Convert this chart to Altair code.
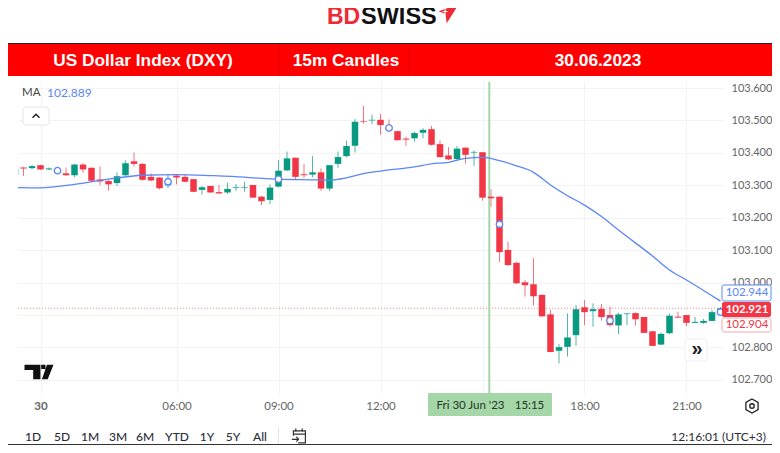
import altair as alt
import pandas as pd

hours = [1.25,1.5,1.75,2.0,2.25,2.5,2.75,3.0,3.25,3.5,3.75,4.0,4.25,4.5,4.75,5.0,5.25,5.5,5.75,6.0,6.25,6.5,6.75,7.0,7.25,7.5,7.75,8.0,8.25,8.5,8.75,
         9.0,9.25,9.5,9.75,10.0,10.25,10.5,10.75,11.0,11.25,11.5,11.75,12.0,12.25,12.5,12.75,13.0,13.25,13.5,13.75,14.0,14.25,14.5,14.75,15.0,15.25,15.5,15.75,
         16.0,16.25,16.5,16.75,17.0,17.25,17.5,17.75,18.0,18.25,18.5,18.75,19.0,19.25,19.5,19.75,20.0,20.25,20.5,20.75,21.0,21.25,21.5,21.75,22.0]
opens = [103.332,103.355,103.353,103.362,103.349,103.347,103.337,103.331,103.364,103.354,103.318,103.313,103.307,103.331,103.374,103.366,103.326,103.324,103.300,103.330,103.326,103.319,103.286,103.298,103.279,103.278,103.292,103.293,103.301,103.265,103.255,
         103.296,103.346,103.385,103.334,103.333,103.340,103.290,103.366,103.390,103.422,103.497,103.500,103.502,103.483,103.467,103.444,103.445,103.462,103.473,103.427,103.392,103.381,103.416,103.401,103.402,103.265,103.265,103.101,
         103.061,103.001,102.995,102.962,102.902,102.790,102.802,102.838,102.924,102.912,102.919,102.900,102.868,102.903,102.906,102.894,102.850,102.809,102.844,102.895,102.900,102.876,102.876,102.882,102.909]
highs = [103.355,103.355,103.363,103.363,103.355,103.352,103.355,103.366,103.368,103.355,103.358,103.318,103.340,103.377,103.401,103.368,103.337,103.325,103.332,103.332,103.335,103.319,103.298,103.298,103.301,103.308,103.304,103.311,103.301,103.267,103.303,
         103.378,103.404,103.385,103.366,103.390,103.352,103.362,103.404,103.438,103.504,103.545,103.518,103.520,103.503,103.468,103.450,103.465,103.476,103.483,103.438,103.417,103.421,103.417,103.407,103.402,103.288,103.265,103.126,
         103.064,103.008,103.075,102.965,102.916,102.811,102.905,102.931,102.946,102.936,102.934,102.926,102.907,102.905,102.908,102.894,102.850,102.846,102.905,102.909,102.900,102.894,102.888,102.916,102.925]
lows = [103.330,103.329,103.349,103.347,103.347,103.339,103.329,103.325,103.339,103.310,103.300,103.283,103.298,103.329,103.358,103.314,103.312,103.288,103.291,103.303,103.309,103.280,103.271,103.278,103.274,103.274,103.283,103.280,103.262,103.239,103.242,
        103.294,103.344,103.316,103.323,103.325,103.283,103.283,103.354,103.386,103.401,103.490,103.488,103.456,103.465,103.438,103.422,103.435,103.445,103.422,103.385,103.378,103.375,103.367,103.360,103.253,103.234,103.064,103.052,
        102.996,102.957,102.929,102.895,102.786,102.751,102.772,102.805,102.869,102.864,102.883,102.864,102.841,102.869,102.867,102.844,102.804,102.807,102.841,102.892,102.866,102.875,102.873,102.880,102.905]
closes = [103.352,103.352,103.359,103.349,103.352,103.344,103.331,103.364,103.349,103.314,103.312,103.303,103.328,103.368,103.366,103.317,103.315,103.291,103.314,103.324,103.311,103.280,103.294,103.278,103.275,103.289,103.294,103.295,103.262,103.251,103.293,
          103.345,103.383,103.326,103.331,103.340,103.290,103.362,103.387,103.421,103.496,103.495,103.502,103.486,103.471,103.439,103.441,103.461,103.471,103.425,103.387,103.380,103.413,103.394,103.403,103.262,103.260,103.094,103.054,
          102.998,102.992,102.958,102.896,102.786,102.801,102.831,102.918,102.909,102.918,102.894,102.869,102.902,102.905,102.887,102.845,102.805,102.842,102.898,102.892,102.876,102.879,102.882,102.909,102.921]

ma_hours = [1.25,2,3,4,5,6,7,8,8.25,9,10,10.5,11,11.5,12,13,13.5,14,14.5,15,15.5,16,16.5,17,17.5,18,18.5,19,20,20.5,21,22]
ma_values = [103.293,103.292,103.303,103.319,103.331,103.333,103.330,103.325,103.323,103.319,103.317,103.316,103.323,103.336,103.344,103.357,103.366,103.371,103.383,103.386,103.376,103.360,103.340,103.301,103.268,103.239,103.204,103.162,103.082,103.039,103.008,102.943]

marker_hours = [2.5,5.75,9,12.25,15.5,18.75,22]
marker_values = [103.345,103.311,103.319,103.477,103.180,102.883,102.909]

y_ticks = [102.7,102.8,102.9,103.0,103.1,103.2,103.3,103.4,103.5,103.6]
x_ticks = [2,6,9,12,15,18,21]
ranges = ["1D","5D","1M","3M","6M","YTD","1Y","5Y","All"]
range_x = [33,62,90,118,145,177,207,233,260]

RED, GREEN, BLUE = "#f23645", "#089981", "#5b86f5"
UI = "Lato"
AR = "Liberation Sans"

candles = pd.DataFrame({"h": hours, "o": opens, "hi": highs, "lo": lows, "c": closes})
candles["dir"] = ["up" if c >= o else "down" for o, c in zip(opens, closes)]

xs = alt.Scale(domain=[1.338, 22.103], nice=False, zero=False, padding=0, range=[0, 706])
ys = alt.Scale(domain=[102.6597, 103.6185], nice=False, zero=False, padding=0, range=[311, 0])
colors = alt.Scale(domain=["up", "down"], range=[GREEN, RED])
x_axis = alt.Axis(
    values=x_ticks, grid=True, gridColor="#f3f3f3", domain=False, ticks=False, title=None,
    labelExpr="datum.value == 2 ? '30' : datum.value == 15 ? '' : (datum.value < 10 ? '0' : '') + datum.value + ':00'",
    labelFont=UI, labelFontSize=11.5, labelColor="#666666", labelPadding=13, labelBaseline="middle",
    labelOverlap=False, labelFlush=False, labelBound=False,
    labelFontWeight=alt.condition("datum.value == 2", alt.value("bold"), alt.value("normal")))
y_axis = alt.Axis(
    orient="right", values=y_ticks, grid=True, gridColor="#f3f3f3", domain=False, ticks=False, title=None,
    labelExpr="abs(datum.value - 102.9) < 0.001 ? '' : format(datum.value, '.3f')",
    labelFont=UI, labelFontSize=11, labelColor="#666666", labelPadding=7, labelOverlap=False, labelBound=False, labelFlush=False)
X = alt.X("h:Q", scale=xs, axis=x_axis)


def Y(field):
    return alt.Y(field, scale=ys, axis=y_axis)


PX, PY = 18, 82


def rect(x0, y0, x1, y1, **kw):
    return alt.Chart(pd.DataFrame({"a": [0]})).mark_rect(**kw).encode(
        x=alt.value(x0 - PX), x2=alt.value(x1 - PX), y=alt.value(y0 - PY), y2=alt.value(y1 - PY))


def text(x, y, s, **kw):
    kw.setdefault("font", UI)
    kw.setdefault("baseline", "middle")
    return alt.Chart(pd.DataFrame({"t": [s]})).mark_text(**kw).encode(
        x=alt.value(x - PX), y=alt.value(y - PY), text="t:N")


def glyph(x, y, path, size, **kw):
    return alt.Chart(pd.DataFrame({"a": [0]})).mark_point(shape=path, size=size, **kw).encode(
        x=alt.value(x - PX), y=alt.value(y - PY))


wicks = alt.Chart(candles).mark_rule(strokeWidth=1, opacity=0.7, clip=True).encode(
    x=X, y=Y("lo:Q"), y2="hi:Q",
    color=alt.Color("dir:N", scale=colors, legend=None))
bodies = alt.Chart(candles).mark_bar(size=6.5, clip=True).encode(
    x=X, y=Y("o:Q"), y2="c:Q",
    color=alt.Color("dir:N", scale=colors, legend=None))
ma = alt.Chart(pd.DataFrame({"h": ma_hours, "v": ma_values})).mark_line(
    color=BLUE, strokeWidth=1.3, interpolate="monotone", clip=True).encode(
    x=X, y=Y("v:Q"))
markers = alt.Chart(pd.DataFrame({"h": marker_hours, "v": marker_values})).mark_point(
    filled=True, fill="white", stroke=BLUE, strokeWidth=1.3, size=42, opacity=1).encode(
    x=X, y=Y("v:Q"))
price_line = alt.Chart(pd.DataFrame({"v": [102.921]})).mark_rule(
    color=RED, strokeDash=[1, 2], strokeWidth=1, opacity=0.6).encode(y=Y("v:Q"))
cross = alt.Chart(pd.DataFrame({"h": [15.2]})).mark_rule(
    color="#a5d6a7", strokeWidth=2).encode(x=X)

layers = [wicks, price_line, cross, bodies, ma, markers]

# crosshair time label
layers += [rect(428, 393, 552, 416, color="#a5d6a7", cornerRadius=1),
           text(470.5, 406, "Fri 30 Jun '23", color="#26352a", fontSize=11.5),
           text(529.5, 406, "15:15", color="#26352a", fontSize=11.5)]

# header band and logo
layers += [rect(8, 44, 772, 76, color="#ff0000"),
           rect(8, 43, 772, 44, color="#222222"),
           rect(279, 44, 280, 76, color="#e00000"),
           rect(409, 44, 410, 76, color="#e00000"),
           text(143, 61, "US Dollar Index (DXY)", font=AR, fontSize=17.3, fontWeight="bold", color="white"),
           text(346, 61, "15m Candles", font=AR, fontSize=17.3, fontWeight="bold", color="white"),
           text(598, 61, "30.06.2023", font=AR, fontSize=17.3, fontWeight="bold", color="white"),
           text(327, 16.5, "BD", font=AR, fontSize=23, fontWeight="bold", color="#ee2a35", align="left"),
           text(361, 16.5, "SWISS", font=AR, fontSize=23.5, fontWeight="bold", color="#111111", align="left"),
           glyph(449, 14, "M0.85,-0.85 L-0.9,-0.25 L-0.3,0 L-0.2,0.8 Z", 529, filled=True, fill="#ee2a35", stroke=None, opacity=1),
           text(445, 12, "+", font=AR, fontSize=9, fontWeight="bold", color="white")]

# moving average legend and controls
layers += [text(22, 93, "MA", color="#444444", fontSize=11.5, align="left"),
           text(47, 93, "102.889", color=BLUE, fontSize=12, align="left"),
           rect(23, 107, 49, 125, color="white", stroke="#e6e6e6", cornerRadius=3),
           glyph(36, 116, "M-1,0.5 L0,-0.5 L1,0.5", 49, filled=False, stroke="#222222", strokeWidth=1.5, opacity=1),
           rect(685, 339, 707, 361, color="white", stroke="#eeeeee", cornerRadius=3),
           text(697, 349, "»", font=AR, fontSize=20, color="#222222", fontWeight="bold"),
           glyph(39, 372, "M-1,-0.5 H0.1 V0.5 H-0.4 V-0.13 H-1 Z M0.2,0.5 L0.55,-0.5 H1 L0.6,0.5 Z M0.15,-0.5 H0.45 V-0.2 H0.15 Z", 841,
                 filled=True, fill="#111111", stroke=None, opacity=1)]

# last-price tags
layers += [rect(722, 285, 771, 301, color="white", stroke=BLUE, cornerRadius=2),
           text(747, 293, "102.944", color=BLUE, fontSize=11.5),
           rect(722, 302, 771, 317, color=RED, cornerRadius=2),
           text(747, 309.5, "102.921", color="white", fontSize=11.5, fontWeight="bold"),
           rect(722, 318, 771, 332, color="white", stroke="#f7a8ae", cornerRadius=2),
           text(747, 325, "102.904", color=RED, fontSize=11.5)]

# settings icon
layers += [glyph(752, 406, "M0,-1 L0.87,-0.5 L0.87,0.5 L0,1 L-0.87,0.5 L-0.87,-0.5 Z", 196, filled=False, stroke="#222222", strokeWidth=1.3, opacity=1),
           glyph(752, 406, "circle", 20, filled=False, stroke="#222222", strokeWidth=1.3, opacity=1)]

# bottom toolbar
for rx, r in zip(range_x, ranges):
    layers.append(text(rx, 436.5, r, color="#2a2e39", fontSize=12, fontWeight=500))
layers += [rect(278, 427, 279, 444, color="#e6e6e6"),
           glyph(299, 436.5, "M-0.7,-0.1 V-0.7 H0.8 V0.8 H-0.1 M-0.7,-0.3 H0.8 M-0.4,-1 V-0.6 M0.4,-1 V-0.6 M-0.9,0.35 H-0.1 M-0.35,0.05 L-0.05,0.35 L-0.35,0.65", 256,
                 filled=False, stroke="#333333", strokeWidth=1.2, opacity=1),
           text(766, 436.5, "12:16:01 (UTC+3)", color="#2a2e39", fontSize=12, align="right"),
           rect(8, 444, 772, 445, color="#333333")]

chart = alt.layer(*layers).properties(
    width=706, height=311, background="white",
    padding={"left": 10, "top": 74, "right": 48, "bottom": 52},
    autosize=alt.AutoSizeParams(type="none"),
).configure_view(stroke=None).configure_axis(labelOverlap=False)

chart.save("out.html", embed_options={"renderer": "svg", "actions": False})
